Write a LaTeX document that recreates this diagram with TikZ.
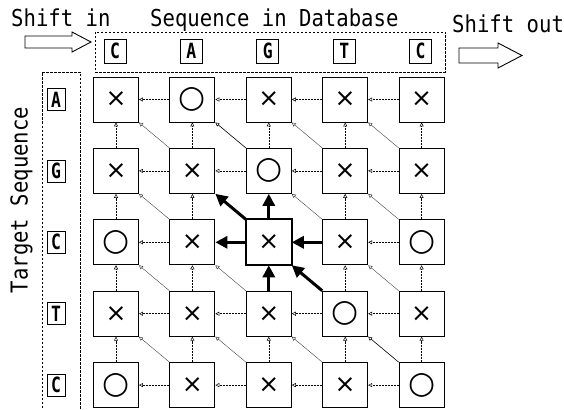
\documentclass[tikz,border=0pt]{standalone}
\usepackage{fontspec}
\newfontfamily\monofont{DejaVu Sans Mono}
\newfontfamily\symfont{DejaVu Sans}
\usetikzlibrary{arrows.meta}
\newcommand\seqlet[1]{\scalebox{0.78}[1]{#1}}
\newcommand\narrowtxt[1]{\scalebox{0.885}[1]{#1}}
\begin{document}
\begin{tikzpicture}[x=1pt,y=-1pt,
  cell/.style={draw,line width=0.9pt,minimum size=45pt,inner sep=0pt},
  crossfont/.style={font=\symfont\fontsize{25}{25}\selectfont},
  circfont/.style={font=\symfont\fontsize{31}{31}\selectfont},
  letterbox/.style={draw,line width=0.8pt,inner sep=0pt,font=\monofont\bfseries\fontsize{21}{21}\selectfont},
  lbl/.style={font=\monofont\fontsize{23.3}{23.3}\selectfont,inner sep=0pt},
  hv/.style={line width=0.5pt,dash pattern=on 2pt off 1pt,-{Triangle[open,length=4pt,width=4pt,line width=0.5pt]}},
  dg/.style={line width=0.4pt,black!75,-{Triangle[open,length=4pt,width=4pt,line width=0.5pt]}},
  dgm/.style={line width=0.6pt,-{Triangle[open,length=4pt,width=4pt,line width=0.5pt]}},
  boldarrow/.style={line width=3pt,-{Triangle[length=12pt,width=12pt]}},
  dashframe/.style={draw,line width=0.8pt,dash pattern=on 2.5pt off 1.5pt},
  hollow/.style={draw,line width=0.9pt,fill=white}
]
\useasboundingbox (0,0) rectangle (564,409);

% labels
\node[lbl,anchor=base west] (shin) at (11,27) {\narrowtxt{Shift in}};
\node[lbl,anchor=base west] (seqdb) at (150,27) {\narrowtxt{Sequence in Database}};
\node[lbl,anchor=base west] (shout) at (452,33) {\narrowtxt{Shift out}};
\node[lbl,rotate=90] (tseq) at (21.5,200) {\narrowtxt{Target Sequence}};

% frames
\draw[dashframe] (95,32) rectangle (445,72);
\draw[dashframe] (42,412) -- (42,72) -- (80,72) -- (80,412);

% block arrows
\draw[hollow] (25,36) -- (72,36) -- (72,32) -- (91,42) -- (72,52) -- (72,48) -- (25,48) -- cycle;
\draw[hollow] (459,48) -- (498,48) -- (498,43) -- (522,55.5) -- (498,68) -- (498,63) -- (459,63) -- cycle;

% database letters
\foreach \l [count=\c] in {C,A,G,T,C}
  \node[letterbox,minimum width=22pt,minimum height=24pt] (d\c) at ({115+76.4*(\c-1)},51) {\seqlet{\l}};
% target letters
\foreach \l [count=\r] in {A,G,C,T,C}
  \node[letterbox,minimum width=18pt,minimum height=22pt] (t\r) at (56,{99.5+71.4*(\r-1)}) {\seqlet{\l}};

% cells (circle where target letter matches database letter)
\foreach \k in {12,23,31,35,44,51,55}{\global\expandafter\def\csname symO\k\endcsname{}}
\foreach \r in {1,...,5}{
  \foreach \c in {1,...,5}{
    \pgfmathtruncatemacro\k{10*\r+\c}
    \ifcsname symO\k\endcsname
      \node[cell,circfont] (c\r\c) at ({116+76.4*(\c-1)},{99.5+71.4*(\r-1)}) {○};
    \else
      \node[cell,crossfont] (c\r\c) at ({116+76.4*(\c-1)},{99.5+71.4*(\r-1)}) {×};
    \fi
  }
}
\draw[line width=1.8pt] (c33.north west) rectangle (c33.south east);

% horizontal connectors
\foreach \r in {1,...,5}{\foreach \c in {1,...,4}{%
  \pgfmathtruncatemacro\n{\c+1}\pgfmathtruncatemacro\k{10*\r+\c}%
  \ifnum\k=33 \else\ifnum\k=32 \else \draw[hv] (c\r\n.west) -- (c\r\c.east);\fi\fi}}
% vertical connectors
\foreach \r in {1,...,4}{\foreach \c in {1,...,5}{%
  \pgfmathtruncatemacro\n{\r+1}\pgfmathtruncatemacro\k{10*\r+\c}%
  \ifnum\k=33 \else\ifnum\k=23 \else \draw[hv] (c\n\c.north) -- (c\r\c.south);\fi\fi}}
% diagonal connectors
\foreach \r in {1,...,4}{\foreach \c in {1,...,4}{%
  \pgfmathtruncatemacro\n{\r+1}\pgfmathtruncatemacro\m{\c+1}\pgfmathtruncatemacro\k{10*\r+\c}%
  \ifnum\k=33 \else\ifnum\k=22 \else\ifnum\k=12 \else\ifnum\k=44 \else
    \draw[dg] (c\n\m.north west) -- (c\r\c.south east);\fi\fi\fi\fi}}
\draw[dgm] (c23.north west) -- (c12.south east);
\draw[dgm] (c55.north west) -- (c44.south east);

% bold connectors
\draw[boldarrow] (c34.west) -- (c33.east);
\draw[boldarrow] (c43.north) -- (c33.south);
\draw[boldarrow] (c44.north west) -- (c33.south east);
\draw[boldarrow] (c33.west) -- (c32.east);
\draw[boldarrow] (c33.north) -- (c23.south);
\draw[boldarrow] (c33.north west) -- (c22.south east);
\end{tikzpicture}
\end{document}
